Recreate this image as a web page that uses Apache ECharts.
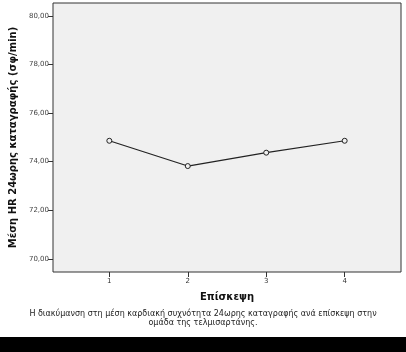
<!DOCTYPE html>
<html>
<head>
<meta charset="utf-8">
<script src="https://cdn.jsdelivr.net/npm/echarts@6/dist/echarts.min.js"></script>
<style>
  html, body { margin: 0; padding: 0; background: #fff; }
  #chart { width: 406px; height: 352px; }
</style>
</head>
<body>
<div id="chart"></div>
<script>
// visits (x categories) and mean HR per visit
const visits = [1, 2, 3, 4];
const meanHR = [74.86, 73.82, 74.37, 74.86];
const yTicks = [70, 72, 74, 76, 78, 80];

const xTitle = 'Επίσκεψη';
const yTitle = 'Μέση HR 24ωρης καταγραφής (σφ/min)';
const caption = 'Η διακύμανση στη μέση καρδιακή συχνότητα 24ωρης καταγραφής ανά επίσκεψη στην\nομάδα της τελμισαρτάνης.';

const points = visits.map((v, i) => [v, meanHR[i]]);

const chart = echarts.init(document.getElementById('chart'));

chart.setOption({
  animation: false,
  backgroundColor: '#fff',
  grid: {
    left: 49, top: 3, right: 5, bottom: 80,
    show: true,
    backgroundColor: '#f0f0f0',
    borderColor: '#333',
    borderWidth: 1
  },
  xAxis: {
    type: 'value',
    min: 0.282,
    max: 4.718,
    splitLine: { show: false },
    axisLine: { show: false },
    axisTick: { show: true, customValues: visits, length: 5, lineStyle: { color: '#333' } },
    axisLabel: {
      customValues: visits,
      fontSize: 7, color: '#333', margin: 6,
      fontFamily: 'DejaVu Sans'
    },
    name: xTitle,
    nameLocation: 'middle',
    nameGap: 20,
    nameTextStyle: { fontSize: 10, fontWeight: 'bold', color: '#111', fontFamily: 'DejaVu Sans' }
  },
  yAxis: {
    type: 'value',
    min: 69.46,
    max: 80.53,
    splitLine: { show: false },
    axisLine: { show: false },
    axisTick: { show: true, customValues: yTicks, length: 5, lineStyle: { color: '#333' } },
    axisLabel: {
      customValues: yTicks,
      fontSize: 7, color: '#444', margin: 4,
      fontFamily: 'DejaVu Sans',
      formatter: v => v.toFixed(2).replace('.', ',')
    },
    name: yTitle,
    nameLocation: 'middle',
    nameGap: 35,
    nameTextStyle: { fontSize: 10, fontWeight: 'bold', color: '#111', fontFamily: 'DejaVu Sans' }
  },
  series: [{
    type: 'line',
    data: points,
    symbol: 'circle',
    symbolSize: 5,
    itemStyle: { color: '#f0f0f0', borderColor: '#222', borderWidth: 1 },
    lineStyle: { color: '#222', width: 1.2 }
  }],
  graphic: [
    {
      type: 'text',
      x: 203,
      y: 309,
      style: {
        text: caption,
        fontSize: 8,
        lineHeight: 9,
        fill: '#222',
        align: 'center',
        fontFamily: 'DejaVu Sans'
      }
    },
    {
      type: 'rect',
      left: 0, top: 337,
      shape: { width: 406, height: 15 },
      style: { fill: '#000' }
    }
  ]
});
</script>
</body>
</html>
